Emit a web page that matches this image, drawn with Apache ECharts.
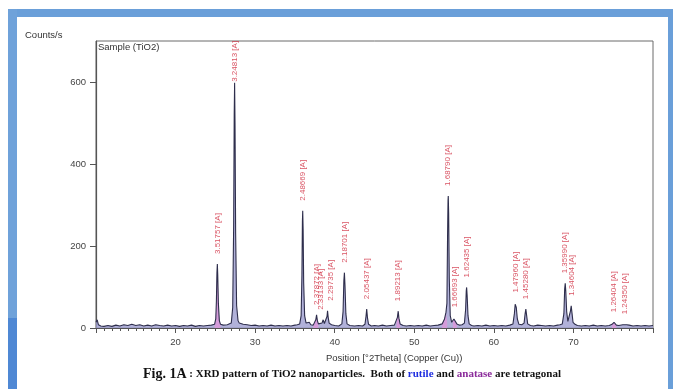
<!DOCTYPE html>
<html>
<head>
<meta charset="utf-8">
<script src="https://cdn.jsdelivr.net/npm/echarts@6/dist/echarts.min.js"></script>
<style>
html,body{margin:0;padding:0;background:#fff;}
#c{width:673px;height:389px;}
</style>
</head>
<body>
<div id="c"></div>
<script>
// ---- data ----
const xTicks = [20, 30, 40, 50, 60, 70];
const yTicks = [0, 200, 400, 600];
// measured profile: [2Theta, counts/s]
const profile = [
 [10.0,14],[10.15,20],[10.3,8],[10.6,5],[11.0,4],[11.5,6],[12.0,4],[12.5,7],[13.0,5],[13.5,8],
 [14.0,6],[14.5,9],[15.0,6],[15.5,8],[16.0,5],[16.5,7],[17.0,5],[17.5,8],[18.0,6],[18.5,5],
 [19.0,7],[19.5,5],[20.0,6],[20.5,4],[21.0,6],[21.5,5],[22.0,7],[22.5,4],[23.0,6],[23.5,5],
 [24.0,6],[24.5,7],[24.9,9],[25.05,22],[25.13,65],[25.2,135],[25.25,156],[25.3,130],[25.38,60],
 [25.5,18],[25.65,9],[26.0,7],[26.5,8],[27.0,12],[27.18,50],[27.3,250],[27.37,520],[27.42,598],
 [27.47,500],[27.55,230],[27.67,55],[27.85,18],[28.0,12],[28.5,9],[29.0,8],[29.5,6],[30.0,7],
 [30.5,5],[31.0,6],[31.5,5],[32.0,7],[32.5,5],[33.0,6],[33.5,5],[34.0,6],[34.5,5],[35.0,7],
 [35.3,8],[35.6,10],[35.78,30],[35.88,130],[35.94,260],[35.98,286],[36.03,240],[36.1,110],
 [36.22,30],[36.4,12],[36.8,14],[37.0,8],[37.3,7],[37.5,10],[37.62,20],[37.72,32],[37.82,18],
 [37.95,10],[38.2,9],[38.4,12],[38.55,20],[38.7,11],[38.95,12],[39.03,28],[39.1,42],[39.18,26],
 [39.3,12],[39.6,8],[40.0,6],[40.5,5],[40.9,10],[41.05,40],[41.15,115],[41.22,135],[41.29,105],
 [41.4,35],[41.55,10],[41.9,6],[42.5,5],[43.0,6],[43.5,5],[43.8,9],[43.93,28],[44.02,46],
 [44.11,26],[44.25,9],[44.6,5],[45.0,6],[45.5,5],[46.0,7],[46.5,5],[47.0,6],[47.5,7],[47.75,11],
 [47.88,26],[47.98,41],[48.07,24],[48.22,10],[48.6,6],[49.0,5],[49.5,6],[50.0,5],[50.5,6],
 [51.0,5],[51.5,7],[52.0,5],[52.5,6],[53.0,7],[53.5,10],[53.8,22],[53.98,38],[54.1,60],
 [54.18,220],[54.24,310],[54.27,322],[54.32,280],[54.4,120],[54.52,30],[54.7,14],[54.85,16],
 [54.98,22],[55.08,26],[55.18,18],[55.35,10],[55.7,7],[56.0,8],[56.3,12],[56.45,45],[56.53,90],
 [56.58,99],[56.64,80],[56.75,30],[56.9,10],[57.2,6],[57.5,5],[58.0,6],[58.5,5],[59.0,7],
 [59.5,5],[60.0,6],[60.5,5],[61.0,6],[61.5,5],[62.0,7],[62.4,10],[62.58,35],[62.68,58],
 [62.74,62],[62.82,50],[62.95,22],[63.15,9],[63.5,8],[63.8,12],[63.93,35],[64.02,46],[64.11,32],
 [64.25,10],[64.6,6],[65.0,5],[65.5,7],[66.0,6],[66.5,5],[67.0,6],[67.5,5],[68.0,7],[68.3,8],
 [68.6,10],[68.8,35],[68.9,95],[68.97,109],[69.04,90],[69.15,40],[69.3,16],[69.5,15],[69.63,42],
 [69.72,54],[69.8,40],[69.95,14],[70.2,9],[70.5,6],[71.0,5],[71.5,6],[72.0,5],[72.5,7],[73.0,5],
 [73.5,6],[74.0,5],[74.5,6],[74.85,9],[75.0,12],[75.1,14],[75.22,11],[75.4,7],[75.7,6],
 [76.2,8],[76.45,9],[76.7,8],[77.0,7],[77.5,5],[78.0,6],[78.5,5],[79.0,6],[79.5,5],[80.0,6]
];
// anatase peak regions (pink fill)
const anataseProfile = [
 [24.9,9],[25.05,22],[25.13,65],[25.2,135],[25.25,156],[25.3,130],[25.38,60],[25.5,18],[25.65,9], null,
 [37.3,7],[37.5,10],[37.62,20],[37.72,32],[37.82,18],[37.95,10], null,
 [47.75,11],[47.88,26],[47.98,41],[48.07,24],[48.22,10], null,
 [53.5,10],[53.8,22],[53.98,38],[54.08,40],[54.14,12], null,
 [54.85,16],[54.98,22],[55.08,26],[55.18,18],[55.35,10], null,
 [74.85,9],[75.0,12],[75.1,14],[75.22,11],[75.4,7]
];
// peak labels (d-spacings)
const peakAngle  = [25.25, 27.42, 35.98, 37.72, 38.3, 39.45, 41.22, 44.02, 47.98, 54.27, 55.08, 56.58, 62.74, 64.02, 68.97, 69.8, 75.1, 76.45];
const peakHeight = [156, 598, 286, 32, 20, 42, 135, 46, 41, 322, 26, 99, 62, 46, 109, 54, 14, 9];
const peakLabel  = ['3.51757 [A]','3.24813 [A]','2.48669 [A]','2.37872 [A]','2.33133 [A]','2.29735 [A]',
  '2.18701 [A]','2.05437 [A]','1.89213 [A]','1.68790 [A]','1.66693 [A]','1.62435 [A]',
  '1.47960 [A]','1.45280 [A]','1.35990 [A]','1.34604 [A]','1.26404 [A]','1.24350 [A]'];

// ---- chart ----
const chart = echarts.init(document.getElementById('c'), null, {renderer: 'canvas'});
const labelData = peakAngle.map((a, i) => {
  const item = {value: [a, peakHeight[i]]};
  if (peakHeight[i] > 550) item.label = {distance: 1};
  return item;
});
const FONT = 'Liberation Sans, Arial, sans-serif';
const SERIF = '"Liberation Serif", "Times New Roman", serif';
chart.setOption({
  animation: false,
  backgroundColor: '#ffffff',
  grid: {left: 96, top: 41, width: 557, height: 287, show: true, borderColor: '#6a6a6a', borderWidth: 1, backgroundColor: 'transparent'},
  xAxis: {
    type: 'value', min: 10, max: 80, interval: 10,
    axisLine: {show: true, lineStyle: {color: '#555', width: 1}},
    axisTick: {show: true, length: 5, lineStyle: {color: '#555'}},
    minorTick: {show: true, splitNumber: 10, length: 3, lineStyle: {color: '#555'}},
    splitLine: {show: false},
    axisLabel: {fontSize: 9.5, color: '#444', margin: 9, fontFamily: FONT, showMinLabel: false, showMaxLabel: false,
      formatter: v => xTicks.indexOf(v) >= 0 ? String(v) : ''}
  },
  yAxis: {
    type: 'value', min: 0, max: 700, interval: 200,
    axisLine: {show: true, lineStyle: {color: '#555', width: 1.2}},
    axisTick: {show: true, length: 6, lineStyle: {color: '#555'}},
    splitLine: {show: false},
    axisLabel: {fontSize: 9.5, color: '#444', margin: 10, fontFamily: FONT, showMaxLabel: false,
      formatter: v => yTicks.indexOf(v) >= 0 ? String(v) : ''}
  },
  graphic: [
    {type: 'rect', shape: {x: 8, y: 9, width: 665, height: 8}, style: {fill: '#6a9fd9'}, silent: true},
    {type: 'rect', shape: {x: 8, y: 9, width: 9, height: 380}, style: {fill: '#6fa2da'}, silent: true},
    {type: 'rect', shape: {x: 8, y: 318, width: 9, height: 71}, style: {fill: '#4f88d4'}, silent: true},
    {type: 'rect', shape: {x: 668, y: 9, width: 5, height: 380}, style: {fill: '#6a9fd9'}, silent: true},
    {type: 'text', left: 25, top: 30, style: {text: 'Counts/s', font: '9.5px ' + FONT, fill: '#333'}},
    {type: 'text', left: 98, top: 42, style: {text: 'Sample (TiO2)', font: '9.5px ' + FONT, fill: '#333'}},
    {type: 'text', left: 326, top: 353, style: {text: 'Position [°2Theta] (Copper (Cu))', font: '9.5px ' + FONT, fill: '#333'}},
    {type: 'text', left: 143, top: 367, style: {
      rich: {
        f: {font: 'bold 14px ' + SERIF, fill: '#111'},
        t: {font: 'bold 11px ' + SERIF, fill: '#111'},
        r: {font: 'bold 11px ' + SERIF, fill: '#1f2ee0'},
        a: {font: 'bold 11px ' + SERIF, fill: '#8a2a9a'}
      },
      text: '{f|Fig. 1A}{t| : XRD pattern of TiO2 nanoparticles.  Both of }{r|rutile}{t| and }{a|anatase}{t| are tetragonal}'
    }}
  ],
  series: [
    {type: 'line', data: profile, showSymbol: false, symbol: 'none', z: 2,
      lineStyle: {width: 0}, areaStyle: {color: '#9d9dd0', opacity: 0.8}},
    {type: 'line', data: anataseProfile, showSymbol: false, symbol: 'none', z: 3, connectNulls: false,
      lineStyle: {width: 0}, areaStyle: {color: '#d99ad9', opacity: 0.9}},
    {type: 'line', data: profile, showSymbol: false, symbol: 'none', z: 4,
      lineStyle: {color: '#2e2e4c', width: 1.1}},
    {type: 'scatter', data: labelData, symbolSize: 0, z: 5,
      label: {show: true, position: 'top', distance: 10, rotate: 90, align: 'left', verticalAlign: 'middle',
        fontSize: 8, color: '#d0283c', fontFamily: FONT,
        formatter: p => peakLabel[p.dataIndex]}}
  ]
});
</script>
</body>
</html>
